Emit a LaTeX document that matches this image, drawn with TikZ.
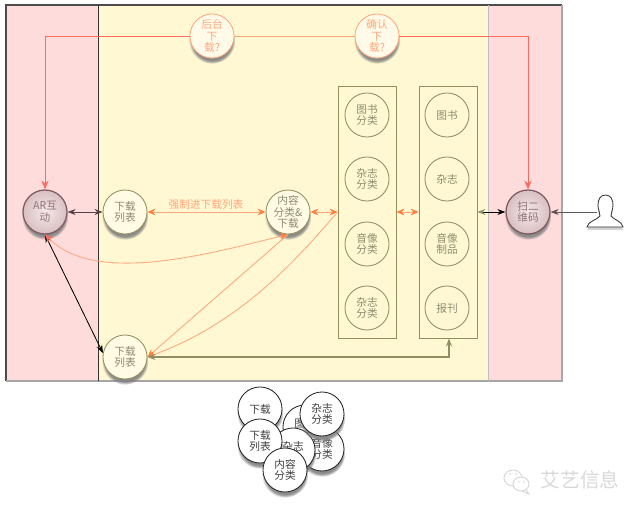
\documentclass[tikz,border=0pt]{standalone}
\usepackage{fontspec}
\setmainfont{Noto Sans CJK SC}
\usetikzlibrary{arrows.meta,shadows}
\definecolor{lanepink}{HTML}{FFDCDC}
\definecolor{laneyellow}{HTML}{FFF8D2}
\definecolor{olive}{HTML}{8F8F60}
\definecolor{oliveink}{HTML}{8C8C72}
\definecolor{coral}{HTML}{FFA67E}
\definecolor{tipcoral}{HTML}{FF8040}
\definecolor{redline}{HTML}{FF6A5C}
\definecolor{rosebd}{HTML}{7E5A62}
\definecolor{rosebg}{HTML}{EBD0D2}
\definecolor{brandgray}{HTML}{D8D8D8}
\tikzset{
  x=0.025cm,y=-0.025cm,
  softshade/.style={circular drop shadow={shadow xshift=0pt,shadow yshift=-3pt,
                    shadow scale=1.06,opacity=0.9}},
  basecircle/.style={circle,minimum size=1.1cm,inner sep=0pt,align=center,
                     font=\fontsize{7.6}{8.2}\selectfont,line width=0.6pt},
  flatcircle/.style={basecircle,draw=olive,fill=laneyellow,text=oliveink},
  softcircle/.style={basecircle,draw=olive,fill=laneyellow!60!white,text=oliveink,softshade},
  rosecircle/.style={basecircle,draw=rosebd,line width=0.9pt,inner color=rosebg!50!white,
                     outer color=rosebg!92!black,text=rosebd!85,softshade},
  asknode/.style={basecircle,draw=coral,fill=laneyellow!50!white,text=coral,softshade},
  whitecircle/.style={basecircle,draw=black!85,fill=white,text=black!75,softshade},
  listbox/.style={draw=olive,line width=0.6pt,minimum width=1.45cm,minimum height=6.3cm,
                  inner sep=0pt},
  lineorange/.style={draw=coral,line width=0.6pt,{Stealth[length=2mm,width=1.7mm,color=tipcoral]}-{Stealth[length=2mm,width=1.7mm,color=tipcoral]}},
  lineoneway/.style={draw=coral,line width=0.6pt,-{Stealth[length=2mm,width=1.7mm,color=tipcoral]}},
  linered/.style={draw=redline,line width=0.6pt,-{Stealth[length=2.2mm,width=1.8mm]}},
  lineblack/.style={draw=black,line width=0.6pt,{Stealth[length=2mm,width=1.5mm]}-{Stealth[length=2mm,width=1.5mm]}},
}
\begin{document}
\begin{tikzpicture}
  \useasboundingbox (0,0) rectangle (640,512);
  % Lanes
  \fill[lanepink](6,5)rectangle(98,381);
  \fill[laneyellow](98,5)rectangle(488,381);
  \fill[lanepink](488,5)rectangle(562,381);
  % Borders
  \draw[black!70,line width=0.9pt](6,381)--(6,5)--(562,5);
  \draw[black!35,line width=0.8pt](562,5)--(562,381)--(6,381);
  \draw[black!80,line width=0.7pt](98,5)--(98,381);
  \draw[black!25,line width=0.7pt](488,5)--(488,381);
  % List boxes
  \node[listbox](classbox)at(367,212){};
  \node[listbox](goodsbox)at(448,212){};
  \foreach \y/\n/\t in {115/a/图书\\分类,179/b/杂志\\分类,244/c/音像\\分类,308/d/杂志\\分类}{
    \node[flatcircle](class\n)at(367,\y){\t};
  }
  \foreach \y/\n/\t in {115/a/图书,179/b/杂志,244/c/音像\\制品,308/d/报刊}{
    \node[flatcircle](goods\n)at(447,\y){\t};
  }
  % Main nodes
  \node[asknode](bgdown)at(212,36){后台\\下\\载?};
  \node[asknode](okdown)at(377,36){确认\\下\\载?};
  \node[rosecircle](arplay)at(45,212){AR互\\动};
  \node[softcircle](dlist)at(125,212){下载\\列表};
  \node[softcircle](content)at(288,212){内容\\分类\&\\下载};
  \node[rosecircle](scan)at(528,212){扫二\\维码};
  \node[softcircle](dlistb)at(125,357){下载\\列表};
  \node[font=\fontsize{7.6}{8.2}\selectfont,text=coral](forcelabel)at(206,204){强制进下载列表};
  % Top route
  \coordinate(turnl)at(45,36);
  \coordinate(turnr)at(528,36);
  \draw[coral,line width=0.6pt](bgdown)--(okdown);
  \draw[linered](bgdown)--(turnl)--(arplay);
  \draw[linered](okdown)--(turnr)--(scan);
  % Straight links
  \draw[line width=0.6pt,draw=rosebd!70!black,
    {Stealth[length=2mm,width=1.5mm]}-{Stealth[length=2mm,width=1.5mm]}]
    (arplay)--(dlist);
  \draw[lineorange](dlist)--(content);
  \draw[lineorange](content.east)--(classbox.west);
  \draw[lineorange](classbox.east)--(goodsbox.west);
  \draw[line width=0.6pt,draw=black,
    {Stealth[length=2mm,width=1.5mm,color=olive]}-{Stealth[length=2mm,width=1.5mm]}]
    (goodsbox.east)--(scan);
  \coordinate(userhand)at(597,212);
  \draw[line width=0.6pt,draw=black!65,-{Stealth[length=2mm,width=1.5mm,color=rosebd!80!black]}]
    (userhand)--(scan);
  \draw[lineblack](arplay.south)--(dlistb.170);
  % Curved links
  \coordinate(curvea)at(205,255);
  \coordinate(curveb)at(95,285);
  \draw[draw=coral,line width=0.6pt,
    {Stealth[length=2mm,width=1.7mm,color=tipcoral]}-{Stealth[length=2mm,width=1.7mm,color=redline]}]
    (content.south)..controls(curvea)and(curveb)..(arplay.south);
  \draw[lineoneway](content.south)--(dlistb.east);
  \coordinate(curvec)at(288,270);
  \coordinate(curved)at(235,325);
  \draw[lineoneway](classbox.west)..controls(curvec)and(curved)..(dlistb.east);
  % Return link
  \coordinate(turnb)at(449,357);
  \draw[olive,line width=0.8pt,{Stealth[length=2mm,width=1.5mm]}-{Stealth[length=2mm,width=1.5mm]}]
    (dlistb.east)--(turnb)--(goodsbox.south-|turnb);
  % User
  \draw[black!80,line width=0.6pt,fill=white,
    drop shadow={shadow xshift=0pt,shadow yshift=-2pt,opacity=0.35}]
    (605.5,195)..controls(600,195)and(598,200)..(598,205)
    ..controls(598,210)and(600,212)..(600,216)
    ..controls(597,220)and(588,221)..(587,227)--(623,227)
    ..controls(622,221)and(614,220)..(611,216)
    ..controls(611,212)and(613,210)..(613,205)
    ..controls(613,200)and(611,195)..(605.5,195)--cycle;
  % Loose circles
  \node[whitecircle](looseg)at(305,427){\raisebox{6pt}{图书}};
  \node[whitecircle](loosef)at(322,449){音像\\分类};
  \node[whitecircle](loosed)at(293,450){\raisebox{5pt}{杂志}};
  \node[whitecircle](loosee)at(322,414){杂志\\分类};
  \node[whitecircle](loosea)at(260,409){下载};
  \node[whitecircle](looseb)at(260,441){下载\\列表};
  \node[whitecircle](loosec)at(285,470){内容\\分类};
  % Watermark
  \draw[brandgray,line width=0.7pt](513,478)ellipse[x radius=9,y radius=8];
  \draw[brandgray,line width=0.7pt,fill=white](521,484)ellipse[x radius=8,y radius=7];
  \draw[brandgray,line width=0.7pt](526,490)--(529,494)--(522,491);
  \fill[brandgray](510,474)circle(1);
  \fill[brandgray](516,474)circle(1);
  \fill[brandgray](519,482)circle(0.8);
  \fill[brandgray](524,482)circle(0.8);
  \node[font=\fontsize{14}{15}\selectfont,text=brandgray](brand)at(580,480){艾艺信息};
\end{tikzpicture}
\end{document}
